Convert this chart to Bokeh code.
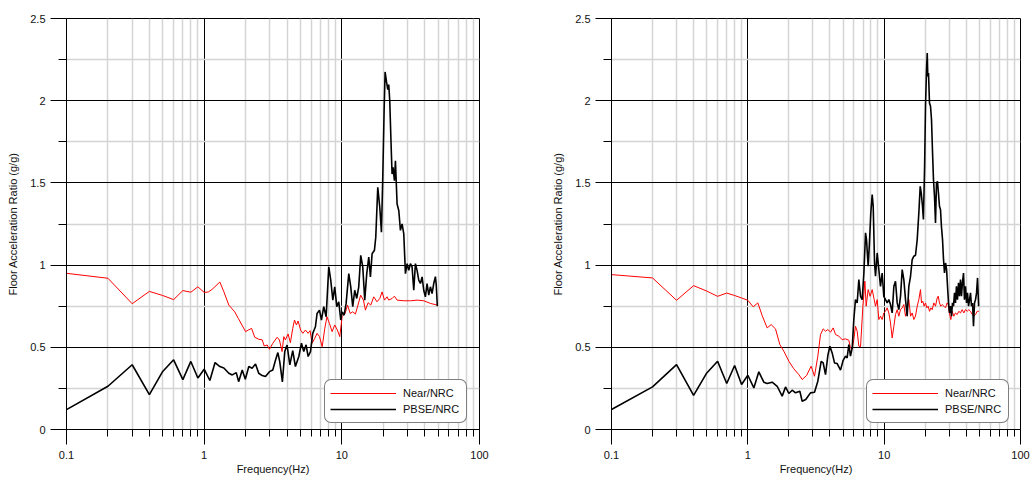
from bokeh.plotting import figure
from bokeh.models import FixedTicker, Legend, LegendItem, Range1d
from bokeh.layouts import row
from bokeh.embed import file_html
from bokeh.resources import INLINE

# ---------------- data ----------------
x_ticks = [0.1, 1, 10, 100]
x_tick_labels = ["0.1", "1", "10", "100"]
x_minor_ticks = [m * d for d in (0.1, 1, 10) for m in range(2, 10)]
y_ticks = [0, 0.5, 1, 1.5, 2, 2.5]
y_tick_labels = ["0", "0.5", "1", "1.5", "2", "2.5"]
y_minor_ticks = [0.25, 0.75, 1.25, 1.75, 2.25]

series_names = ["Near/NRC", "PBSE/NRC"]

# left panel
left_near_f = [0.1, 0.2, 0.3, 0.4, 0.5, 0.6, 0.7, 0.8, 0.9, 1.0, 1.07, 1.14, 1.3, 1.39, 1.51, 1.67, 1.77,
               2.0, 2.09, 2.21, 2.33, 2.49, 2.64, 2.73, 2.87, 2.98, 3.15, 3.39, 3.52, 3.68, 3.79, 3.89,
               4.07, 4.23, 4.4, 4.53, 4.68, 4.81, 5.02, 5.21, 5.44, 5.69, 5.88, 6.08, 6.36, 6.61, 6.88,
               7.2, 7.52, 7.8, 8.12, 8.5, 8.88, 9.28, 9.66, 10.05, 10.56, 11.0, 11.5, 12.0, 12.55, 13.1, 13.7,
               14.35, 14.84, 15.52, 16.23, 17.06, 18.0, 18.86, 19.6, 20.4, 21.3, 21.9, 23.2, 24.1, 25.2, 28.2,
               31.5, 35.2, 39.4, 44.0, 49.2]
left_near_v = [0.95, 0.92, 0.765, 0.84, 0.815, 0.79, 0.845, 0.835, 0.868, 0.834, 0.836, 0.852, 0.897, 0.838, 0.757, 0.715, 0.676,
               0.595, 0.605, 0.615, 0.561, 0.549, 0.545, 0.508, 0.514, 0.488, 0.524, 0.561, 0.545, 0.474, 0.565, 0.545,
               0.581, 0.528, 0.615, 0.666, 0.636, 0.66, 0.605, 0.585, 0.605, 0.585, 0.601, 0.525, 0.555, 0.585, 0.565,
               0.504, 0.615, 0.686, 0.646, 0.595, 0.636, 0.605, 0.565, 0.686, 0.706, 0.757, 0.706, 0.716, 0.702, 0.757, 0.817,
               0.787, 0.726, 0.771, 0.757, 0.807, 0.777, 0.797, 0.837, 0.787, 0.807, 0.787, 0.797, 0.811, 0.787, 0.783,
               0.783, 0.787, 0.783, 0.767, 0.757]

left_pbse_f = [0.1, 0.2, 0.3, 0.4, 0.5, 0.6, 0.7, 0.8, 0.9, 1.0, 1.1, 1.2, 1.3, 1.39, 1.51, 1.6, 1.71, 1.78, 1.89, 1.99,
               2.11, 2.23, 2.36, 2.49, 2.64, 2.79, 2.98, 3.15, 3.3, 3.43, 3.54, 3.7, 3.85, 4.0, 4.19, 4.4, 4.6, 4.87,
               5.09, 5.29, 5.5, 5.69, 5.92, 6.15, 6.43, 6.61, 6.88, 7.11, 7.39, 7.69, 8.04, 8.31, 8.6, 8.88, 9.19, 9.5, 9.82,
               10.05, 10.39, 10.74, 11.23, 11.61, 12.0, 12.41, 12.83, 13.27, 13.72, 14.19, 14.67, 15.17, 15.69,
               16.13, 16.59, 17.25, 17.64, 18.24, 18.86, 19.39, 19.83, 20.28, 20.62, 21.08, 21.56, 21.92, 22.29, 22.79,
               23.17, 23.57, 24.1, 24.51, 25.2, 25.92, 26.65, 27.4, 28.18, 28.97, 29.79, 30.63, 31.49, 32.38, 33.3, 34.24,
               35.2, 36.2, 37.22, 38.28, 39.35, 40.46, 41.61, 42.79, 43.99, 45.23, 46.51, 47.83, 48.5, 49.4]
left_pbse_v = [0.121, 0.263, 0.394, 0.212, 0.353, 0.424, 0.303, 0.414, 0.313, 0.367, 0.298, 0.407, 0.383, 0.374, 0.342, 0.332, 0.346, 0.291, 0.362, 0.306,
               0.383, 0.373, 0.399, 0.342, 0.328, 0.322, 0.352, 0.362, 0.423, 0.468, 0.413, 0.29, 0.474, 0.514, 0.393, 0.48, 0.383, 0.444,
               0.525, 0.474, 0.515, 0.444, 0.474, 0.585, 0.625, 0.706, 0.726, 0.666, 0.747, 0.686, 0.989, 0.908, 0.787, 0.868, 0.747, 0.777, 0.666,
               0.716, 0.696, 0.767, 0.948, 0.868, 0.747, 0.847, 0.797, 0.868, 1.059, 0.989, 0.787, 0.948, 1.049,
               0.928, 1.069, 1.09, 1.17, 1.473, 1.352, 1.20, 1.533, 1.937, 2.175, 2.119, 2.068, 2.098, 1.998, 1.735,
               1.554, 1.594, 1.513, 1.634, 1.372, 1.332, 1.211, 1.251, 1.19, 0.948, 1.009, 0.968, 1.009, 0.989, 0.847, 1.009,
               0.968, 0.908, 0.888, 0.928, 0.847, 0.807, 0.888, 0.817, 0.868, 0.827, 0.888, 0.93, 0.88, 0.75]

# right panel
right_near_f = [0.1, 0.2, 0.3, 0.4, 0.5, 0.6, 0.7, 0.8, 0.9, 1.0, 1.094, 1.184, 1.274, 1.386, 1.483, 1.596, 1.717, 1.837,
                2.0, 2.175, 2.366, 2.503, 2.694, 2.915, 3.083, 3.262, 3.412, 3.57, 3.714, 3.863, 4.04, 4.227, 4.396, 4.651, 4.92,
                5.205, 5.506, 5.66, 5.83, 5.99, 6.16, 6.34, 6.52, 6.71, 6.98, 7.22, 7.38, 7.63, 7.89, 8.17, 8.45, 8.64, 8.89,
                9.14, 9.4, 9.67, 9.94, 10.23, 10.52, 10.82, 11.13, 11.45, 11.78, 12.11, 12.46, 12.81, 13.18, 13.56, 13.94,
                14.34, 14.75, 15.17, 15.61, 16.05, 16.51, 16.98, 17.47, 17.96, 18.47, 18.79, 19.2, 19.65, 20.1, 20.56, 21.0,
                21.52, 22.0, 22.5, 23.14, 23.8, 24.48, 24.9, 25.45, 26.0, 26.64, 27.4, 28.18, 28.98, 29.5, 30.1, 30.83, 31.54,
                32.43, 33.36, 34.31, 35.29, 36.3, 37.34, 38.4, 39.5, 40.63, 41.79, 42.98, 44.21, 45.48, 46.77, 48.11, 49.49]
right_near_v = [0.942, 0.922, 0.786, 0.875, 0.842, 0.81, 0.83, 0.815, 0.80, 0.786, 0.746, 0.77, 0.693, 0.618, 0.638, 0.612, 0.517, 0.476,
                0.415, 0.369, 0.334, 0.304, 0.328, 0.385, 0.324, 0.446, 0.578, 0.612, 0.598, 0.608, 0.592, 0.618, 0.578, 0.567, 0.547,
                0.551, 0.543, 0.496, 0.49, 0.547, 0.628, 0.598, 0.507, 0.503, 0.75, 0.902, 0.75, 0.851, 0.81, 0.851, 0.79, 0.75, 0.79,
                0.669, 0.689, 0.669, 0.709, 0.719, 0.74, 0.709, 0.648, 0.557, 0.628, 0.699, 0.729, 0.689, 0.729, 0.74, 0.76,
                0.689, 0.729, 0.79, 0.689, 0.709, 0.669, 0.69, 0.75, 0.79, 0.851, 0.77, 0.78, 0.75, 0.77, 0.74, 0.75,
                0.719, 0.74, 0.729, 0.77, 0.75, 0.80, 0.811, 0.77, 0.75, 0.76, 0.75, 0.74, 0.77, 0.76, 0.709, 0.669, 0.719,
                0.689, 0.709, 0.699, 0.719, 0.709, 0.729, 0.709, 0.729, 0.719, 0.729, 0.719, 0.699, 0.689, 0.699, 0.719, 0.719]

right_pbse_f = [0.1, 0.2, 0.3, 0.4, 0.5, 0.6, 0.7, 0.8, 0.9, 1.0, 1.107, 1.204, 1.31, 1.386, 1.509, 1.642, 1.786, 1.89,
                2.0, 2.115, 2.237, 2.407, 2.503, 2.66, 2.88, 3.083, 3.262, 3.451, 3.57, 3.714, 3.863, 3.996,
                4.155, 4.323, 4.523, 4.783, 5.004, 5.205, 5.35, 5.506, 5.66, 5.83, 5.99, 6.16, 6.34, 6.52, 6.71, 6.9,
                7.1, 7.3, 7.42, 7.63, 7.8, 7.98, 8.17, 8.31, 8.5, 8.64, 8.89, 9.14, 9.4, 9.67, 9.94,
                10.23, 10.52, 10.82, 11.13, 11.45, 11.78, 12.11, 12.46, 12.81, 13.18, 13.56, 13.94,
                14.34, 14.75, 15.17, 15.61, 16.05, 16.51, 16.98, 17.47, 17.96, 18.38, 18.7, 19.1, 19.4, 19.8,
                20.1, 20.45, 20.7, 20.9, 21.15, 21.5, 21.88, 22.25, 22.6, 23.0, 23.4, 23.8, 24.2, 24.6, 25.0, 25.45, 25.9,
                26.3, 26.8, 27.25, 27.7, 28.2, 28.7, 29.15, 29.65, 30.15, 30.66, 31.2, 31.7, 32.25, 32.8, 33.35, 33.9,
                34.5, 35.1, 35.7, 36.3, 36.9, 37.5, 38.2, 38.8, 39.5, 40.2, 40.85, 41.6, 42.3, 43.0, 43.7, 44.5, 45.2,
                46.0, 46.8, 47.6, 48.4, 49.3]
right_pbse_v = [0.122, 0.259, 0.395, 0.207, 0.344, 0.415, 0.28, 0.389, 0.274, 0.33, 0.253, 0.351, 0.288, 0.28, 0.288, 0.263, 0.203, 0.259,
                0.219, 0.239, 0.223, 0.233, 0.172, 0.182, 0.223, 0.227, 0.294, 0.415, 0.405, 0.334, 0.45, 0.507,
                0.466, 0.405, 0.401, 0.361, 0.421, 0.446, 0.436, 0.517, 0.446, 0.496, 0.669, 0.79, 0.77, 0.912, 0.81, 0.79,
                0.952, 1.196, 1.155, 0.993, 1.135, 1.317, 1.429, 1.358, 1.013, 0.932, 1.074, 0.973, 0.871, 0.952, 0.81,
                0.79, 0.77, 0.79, 0.76, 0.709, 0.871, 0.902, 0.77, 0.729, 0.81, 0.973, 0.912,
                0.79, 0.689, 0.871, 0.932, 1.033, 1.054, 1.06, 1.155, 1.317, 1.479, 1.439, 1.358, 1.277, 1.601,
                1.966, 2.188, 2.29, 2.148, 2.168, 1.986, 1.966, 1.884, 1.702, 1.52, 1.418, 1.256, 1.499, 1.51, 1.439, 1.358, 1.337,
                1.236, 1.155, 1.033, 0.952, 1.013, 0.973, 0.871, 0.77, 0.709, 0.75, 0.689, 0.77, 0.75, 0.831, 0.77, 0.871,
                0.79, 0.892, 0.811, 0.912, 0.811, 0.892, 0.952, 0.79, 0.871, 0.77, 0.831, 0.75, 0.79, 0.831, 0.75, 0.77, 0.628,
                0.77, 0.79, 0.831, 0.922, 0.75]

FONT = "Liberation Sans"


def make_panel(near_f, near_v, pbse_f, pbse_v, width, b_left, b_right, b_top, legend_x):
    p = figure(width=width, height=477, x_axis_type="log",
               x_range=Range1d(0.1, 100), y_range=Range1d(0, 2.5),
               output_backend="svg", toolbar_location=None,
               min_border_left=b_left, min_border_right=b_right,
               min_border_top=b_top, min_border_bottom=47,
               background_fill_color="white", border_fill_color="white")
    p.outline_line_color = "black"
    p.outline_line_width = 1

    xt = FixedTicker(ticks=x_ticks, minor_ticks=x_minor_ticks)
    yt = FixedTicker(ticks=y_ticks, minor_ticks=y_minor_ticks)
    p.xaxis.ticker = xt
    p.yaxis.ticker = yt
    p.xgrid.ticker = xt
    p.ygrid.ticker = yt
    p.xaxis.major_label_overrides = dict(zip(x_ticks, x_tick_labels))
    p.yaxis.major_label_overrides = dict(zip(y_ticks, y_tick_labels))

    for g in (p.xgrid, p.ygrid):
        g.grid_line_color = "black"
        g.grid_line_width = 1
        g.minor_grid_line_color = "#d4d4d4"
        g.minor_grid_line_width = 1.5

    for ax in (p.xaxis, p.yaxis):
        ax.axis_line_color = "black"
        ax.major_tick_line_color = "black"
        ax.minor_tick_line_color = "black"
        ax.major_tick_in = 0
        ax.minor_tick_in = 0
        ax.major_label_text_font = FONT
        ax.major_label_text_font_size = "11px"
        ax.major_label_text_color = "#111111"
        ax.axis_label_text_font = FONT
        ax.axis_label_text_font_size = "11px"
        ax.axis_label_text_font_style = "normal"
        ax.axis_label_text_color = "#111111"
    p.xaxis.major_tick_out = 15
    p.xaxis.minor_tick_out = 7
    p.yaxis.major_tick_out = 16
    p.yaxis.minor_tick_out = 8
    p.xaxis.major_label_standoff = 6
    p.yaxis.major_label_standoff = 5
    p.xaxis.axis_label_standoff = 1
    p.yaxis.axis_label_standoff = 8
    p.xaxis.axis_label = "Frequency(Hz)"
    p.yaxis.axis_label = "Floor Acceleration Ratio (g/g)"

    r_near = p.line(near_f, near_v, line_color="#ff0000", line_width=1)
    r_pbse = p.line(pbse_f, pbse_v, line_color="black", line_width=1.6)

    legend = Legend(items=[LegendItem(label=series_names[0], renderers=[r_near]),
                           LegendItem(label=series_names[1], renderers=[r_pbse])],
                    location=(legend_x, 6), margin=0, padding=5, spacing=0,
                    glyph_width=66, glyph_height=16, label_height=16, label_width=58,
                    label_standoff=7,
                    label_text_font=FONT, label_text_font_size="11px",
                    label_text_color="#111111", label_text_align="left",
                    label_text_baseline="middle",
                    border_line_color="black", border_line_width=1,
                    background_fill_color="white", background_fill_alpha=1)
    try:
        legend.border_radius = 7
    except Exception:
        pass
    p.add_layout(legend)
    return p


p1 = make_panel(left_near_f, left_near_v, left_pbse_f, left_pbse_v, 515, 66, 36, 17, 258)
p2 = make_panel(right_near_f, right_near_v, right_pbse_f, right_pbse_v, 516, 96, 11, 18, 255)

layout = row(p1, p2)
open("out.html", "w").write(file_html(layout, INLINE))
